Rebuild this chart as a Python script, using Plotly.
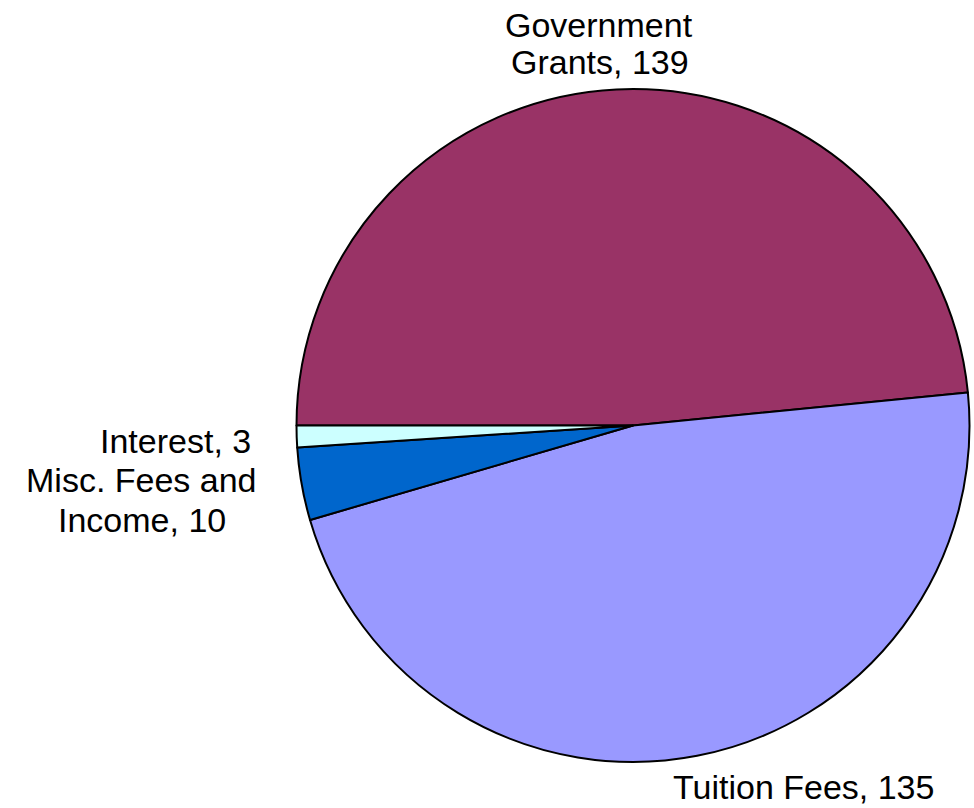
import plotly.graph_objects as go

# ---- data ----
categories = ["Government Grants", "Tuition Fees", "Misc. Fees and Income", "Interest"]
values = [139, 135, 10, 3]
colors = ["#993366", "#9999FF", "#0066CC", "#CCFFFF"]
# how each label is broken into lines (line break marker "|")
label_breaks = ["Government|Grants", "Tuition Fees", "Misc. Fees and|Income", "Interest"]

# ---- layout positions for each label line (pixel centres in a 974x808 canvas) ----
W, H = 974, 808
line_pos = [
    [(599, 25), (600, 62)],
    [(803, 787)],
    [(141, 480), (142, 520)],
    [(175, 441)],
]

fig = go.Figure(
    go.Pie(
        labels=categories,
        values=values,
        sort=False,
        direction="clockwise",
        rotation=-90,
        marker=dict(colors=colors, line=dict(color="black", width=2)),
        textinfo="none",
        domain=dict(x=[296 / W, 970 / W], y=[1 - 762 / H, 1 - 89 / H]),
        showlegend=False,
    )
)

annotations = []
for brk, val, positions in zip(label_breaks, values, line_pos):
    lines = f"{brk}, {val}".split("|")
    for text, (px, py) in zip(lines, positions):
        annotations.append(
            dict(
                text=text,
                x=px / W,
                y=1 - py / H,
                xref="paper",
                yref="paper",
                xanchor="center",
                yanchor="middle",
                showarrow=False,
                font=dict(family="Liberation Sans, Arial, sans-serif", size=34, color="black"),
            )
        )

fig.update_layout(
    width=W,
    height=H,
    autosize=False,
    margin=dict(l=0, r=0, t=0, b=0),
    paper_bgcolor="white",
    plot_bgcolor="white",
    annotations=annotations,
)

fig.write_html("out.html")
